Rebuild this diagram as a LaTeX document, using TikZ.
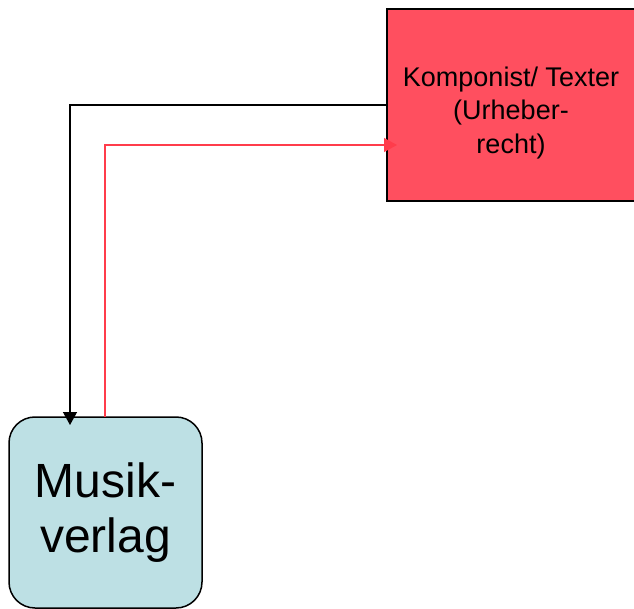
\documentclass[tikz,border=0pt]{standalone}
\usepackage{fontspec}
\setmainfont{Liberation Sans}
\usetikzlibrary{arrows.meta}
\definecolor{urheberred}{RGB}{255,79,95}
\definecolor{linered}{RGB}{255,60,75}
\definecolor{verlagblue}{RGB}{189,224,228}
\begin{document}
\begin{tikzpicture}[x=1pt,y=-1pt,
    box/.style={draw=black,line width=1.5pt,inner sep=0pt,align=center},
    tip/.style={-{Triangle[width=14pt,length=13pt]}}]
    \useasboundingbox (0,0) rectangle (634,609);
    \node[box,fill=urheberred,minimum width=248pt,minimum height=192pt,
      font=\fontsize{27}{33.5}\selectfont] (komponist) at (511,105)
      {\rule{0pt}{35pt}Komponist/ Texter\\(Urheber-\\recht)};
    \node[box,fill=verlagblue,rounded corners=26pt,minimum width=193pt,
      minimum height=191pt,font=\fontsize{48}{55}\selectfont] (verlag) at (105.5,512.5)
      {Musik-\\verlag};
    \coordinate (verlag_in) at (70,425);
    \coordinate (verlag_out) at (105,417);
    \coordinate (komponist_in) at (397,145);
    \draw[tip,draw=black,line width=1.3pt] (komponist.west) -| (verlag_in);
    \draw[tip,draw=linered,line width=1.1pt] (verlag_out) |- (komponist_in);
\end{tikzpicture}
\end{document}
